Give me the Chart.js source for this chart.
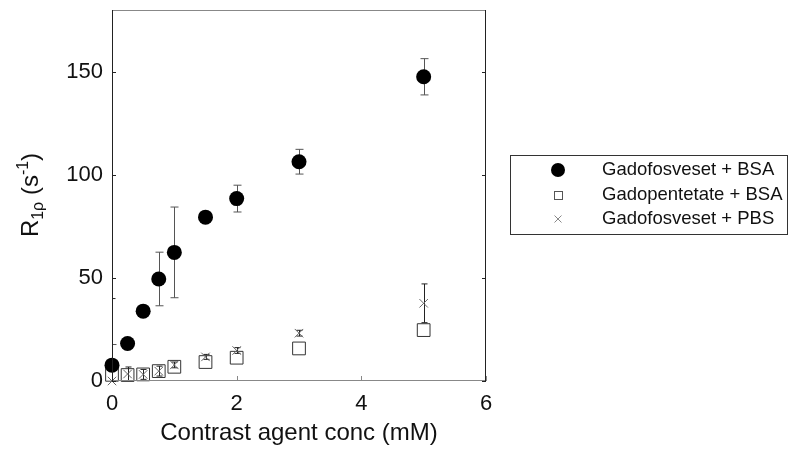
<!DOCTYPE html>
<html>
<head>
<meta charset="utf-8">
<script src="https://cdn.jsdelivr.net/npm/chart.js@4.4.1/dist/chart.umd.min.js"></script>
<style>
  html, body { margin: 0; padding: 0; background: #fff; }
  #c { display: block; }
</style>
</head>
<body>
<canvas id="c" width="789" height="450"></canvas>
<script>
// Contrast agent concentration (mM)
const conc = [0, 0.25, 0.5, 0.75, 1, 1.5, 2, 3, 5];

// R1rho (s^-1) with error bars
const fosBsa = [7.7, 18.2, 33.9, 49.5, 62.4, 79.5, 88.5, 106.4, 147.6];
const fosBsaErr = [10, 0, 0, 13, 22, 0, 6.5, 6, 8.8];
const pentBsa = [3, 2.9, 3.2, 4.8, 6.9, 9.2, 11.3, 15.8, 24.7];
const fosPbs = [0, 3.4, 3.2, 4.8, 7.8, 11.7, 14.8, 23.2, 37.7];
const fosPbsErr = [40, 3.4, 2.4, 2.4, 1.4, 1.2, 1.4, 1.4, 9.4];

const xTicks = [0, 2, 4, 6];
const yTicks = [0, 50, 100, 150];
const seriesNames = ['Gadofosveset + BSA', 'Gadopentetate + BSA', 'Gadofosveset + PBS'];

const FONT = '"Liberation Sans", Arial, Helvetica, sans-serif';

function toPoints(ys) {
    return conc.map((x, i) => ({ x: x, y: ys[i] }));
}

// error bars, drawn just before their own markers
const errorBars = {
    id: 'errorBars',
    beforeDatasetDraw(chart, args) {
        const errs = { 0: fosBsaErr, 2: fosPbsErr }[args.index];
        if (!errs) return;
        const vals = args.index === 0 ? fosBsa : fosPbs;
        const { ctx, chartArea, scales } = chart;
        const cap = args.index === 0 ? 4 : 3;
        ctx.save();
        ctx.beginPath();
        ctx.rect(chartArea.left, chartArea.top, chartArea.right - chartArea.left, chartArea.bottom - chartArea.top);
        ctx.clip();
        ctx.strokeStyle = args.index === 0 ? '#555' : '#222';
        ctx.lineWidth = 1;
        conc.forEach((x, i) => {
            if (!errs[i]) return;
            const px = Math.round(scales.x.getPixelForValue(x)) + 0.5;
            const y1 = scales.y.getPixelForValue(vals[i] + errs[i]);
            const y2 = scales.y.getPixelForValue(vals[i] - errs[i]);
            ctx.beginPath();
            ctx.moveTo(px, y1); ctx.lineTo(px, y2);
            ctx.moveTo(px - cap, y1); ctx.lineTo(px + cap, y1);
            ctx.moveTo(px - cap, y2); ctx.lineTo(px + cap, y2);
            ctx.stroke();
        });
        ctx.restore();
    }
};

// axes box, inward ticks, y title and legend
const frame = {
    id: 'frame',
    afterDraw(chart) {
        const { ctx, chartArea: a, scales } = chart;
        ctx.save();
        ctx.lineWidth = 1;
        ctx.strokeStyle = '#888';
        ctx.beginPath();
        ctx.moveTo(a.left, a.top + 0.5); ctx.lineTo(a.right, a.top + 0.5);
        ctx.moveTo(a.left, a.bottom - 0.5); ctx.lineTo(a.right, a.bottom - 0.5);
        xTicks.forEach(v => {
            const px = Math.round(scales.x.getPixelForValue(v)) + 0.5;
            ctx.moveTo(px, a.bottom); ctx.lineTo(px, a.bottom - 5);
        });
        ctx.stroke();
        ctx.strokeStyle = '#222';
        ctx.beginPath();
        ctx.moveTo(a.left + 0.5, a.top); ctx.lineTo(a.left + 0.5, a.bottom);
        ctx.moveTo(a.right - 0.5, a.top); ctx.lineTo(a.right - 0.5, a.bottom);
        yTicks.forEach(v => {
            const py = Math.round(scales.y.getPixelForValue(v)) + 0.5;
            ctx.moveTo(a.left, py); ctx.lineTo(a.left + 4, py);
            ctx.moveTo(a.right, py); ctx.lineTo(a.right - 4, py);
        });
        ctx.stroke();

        // y axis title: R_{1rho} (s^{-1})
        ctx.fillStyle = '#111';
        ctx.translate(38, 195);
        ctx.rotate(-Math.PI / 2);
        ctx.textBaseline = 'alphabetic';
        const parts = [
            ['R', 24, 0], ['1\u03c1', 16, 5], [' (s', 24, 0], ['-1', 16, -10], [')', 24, 0]
        ];
        let total = 0;
        parts.forEach(p => { ctx.font = p[1] + 'px ' + FONT; total += ctx.measureText(p[0]).width; });
        let cx = -total / 2;
        parts.forEach(p => {
            ctx.font = p[1] + 'px ' + FONT;
            ctx.fillText(p[0], cx, p[2]);
            cx += ctx.measureText(p[0]).width;
        });
        ctx.restore();

        // legend
        ctx.save();
        ctx.strokeStyle = '#333';
        ctx.lineWidth = 1;
        ctx.strokeRect(510.5, 155.5, 277, 79);
        const rows = [170, 195, 219];
        const mx = 558;
        ctx.fillStyle = '#000';
        ctx.beginPath(); ctx.arc(mx, rows[0], 7, 0, Math.PI * 2); ctx.fill();
        ctx.strokeStyle = '#555';
        ctx.strokeRect(mx - 3.5, rows[1] - 3.5, 8, 8);
        ctx.strokeStyle = '#888';
        ctx.beginPath();
        ctx.moveTo(mx - 3.5, rows[2] - 3.5); ctx.lineTo(mx + 3.5, rows[2] + 3.5);
        ctx.moveTo(mx - 3.5, rows[2] + 3.5); ctx.lineTo(mx + 3.5, rows[2] - 3.5);
        ctx.stroke();
        ctx.fillStyle = '#111';
        ctx.font = '18.5px ' + FONT;
        ctx.textBaseline = 'middle';
        seriesNames.forEach((t, i) => ctx.fillText(t, 602, rows[i]));
        ctx.restore();
    }
};

const chart = new Chart(document.getElementById('c').getContext('2d'), {
    type: 'scatter',
    data: {
        datasets: [
            {
                label: seriesNames[0], data: toPoints(fosBsa), order: 0, clip: false,
                pointStyle: 'circle', pointRadius: 7.5, pointHoverRadius: 7.5,
                backgroundColor: '#000', borderColor: '#000', borderWidth: 0
            },
            {
                label: seriesNames[1], data: toPoints(pentBsa), order: 2, clip: false,
                pointStyle: 'rect', pointRadius: 9, pointHoverRadius: 9,
                backgroundColor: '#fff', borderColor: '#333', borderWidth: 1
            },
            {
                label: seriesNames[2], data: toPoints(fosPbs), order: 1, clip: false,
                pointStyle: 'crossRot', pointRadius: 6, pointHoverRadius: 6,
                backgroundColor: '#666', borderColor: '#666', borderWidth: 1
            }
        ]
    },
    options: {
        responsive: false,
        animation: false,
        devicePixelRatio: 1,
        layout: { padding: { left: 0, right: 303, top: 7, bottom: 0 } },
        plugins: { legend: { display: false }, tooltip: { enabled: false } },
        scales: {
            x: {
                type: 'linear', min: 0, max: 6,
                afterBuildTicks: s => { s.ticks = xTicks.map(v => ({ value: v })); },
                afterFit: s => { s.height = 69; s.paddingLeft = 0; s.paddingRight = 0; },
                ticks: { font: { family: FONT, size: 22 }, color: '#111', padding: 10 },
                grid: { display: false, drawTicks: false },
                border: { display: false },
                title: {
                    display: true, text: 'Contrast agent conc (mM)', color: '#111',
                    font: { family: FONT, size: 24 }, padding: { top: 0, bottom: 2 }
                }
            },
            y: {
                type: 'linear', min: 0, max: 180,
                afterBuildTicks: s => { s.ticks = yTicks.map(v => ({ value: v })); },
                afterFit: s => { s.width = 112; s.paddingTop = 0; s.paddingBottom = 0; },
                ticks: { font: { family: FONT, size: 22 }, color: '#111', padding: 9 },
                grid: { display: false, drawTicks: false },
                border: { display: false }
            }
        }
    },
    plugins: [errorBars, frame]
});
</script>
</body>
</html>
